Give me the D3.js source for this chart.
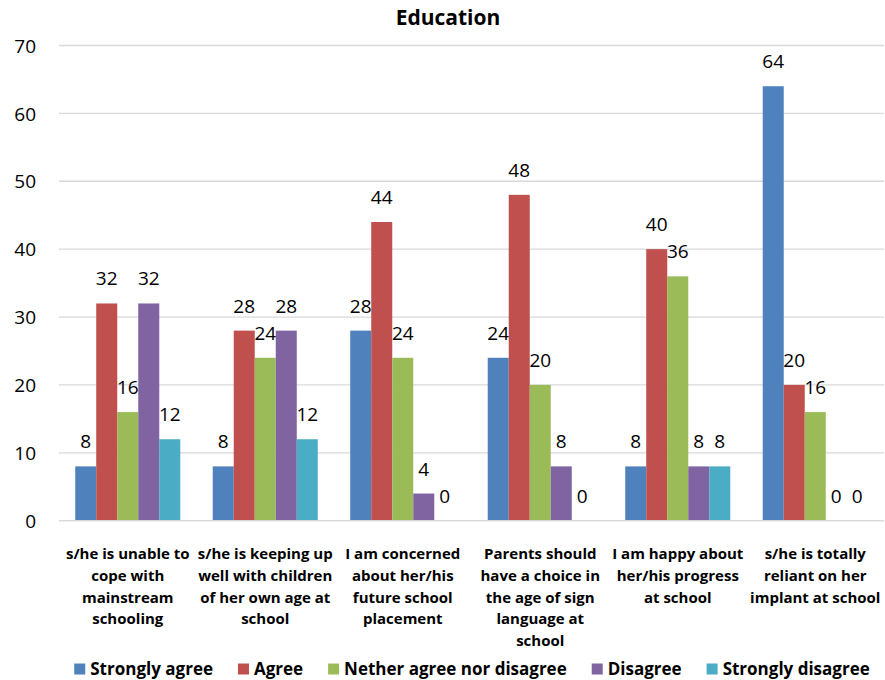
<!DOCTYPE html>
<html><head><meta charset="utf-8">
<script src="https://cdn.jsdelivr.net/npm/d3@7"></script>
<style>body{margin:0;background:#fff}svg{display:block}text{font-family:"Open Sans",Lato,sans-serif}</style>
</head><body><svg id="c" width="885" height="680"></svg>
<script>
const categories = [
  "s/he is unable to cope with mainstream schooling",
  "s/he is keeping up well with children of her own age at school",
  "I am concerned about her/his future school placement",
  "Parents should have a choice in the age of sign language at school",
  "I am happy about her/his progress at school",
  "s/he is totally reliant on her implant at school"
];
const categoryLines = [
  ["s/he is unable to","cope with","mainstream","schooling"],
  ["s/he is keeping up","well with children","of her own age at","school"],
  ["I am concerned","about her/his","future school","placement"],
  ["Parents should","have a choice in","the age of sign","language at","school"],
  ["I am happy about","her/his progress","at school"],
  ["s/he is totally","reliant on her","implant at school"]
];
const seriesNames = ["Strongly agree","Agree","Nether agree nor disagree","Disagree","Strongly disagree"];
const stronglyAgree = [8, 8, 28, 24, 8, 64];
const agree = [32, 28, 44, 48, 40, 20];
const neither = [16, 24, 24, 20, 36, 16];
const disagree = [32, 28, 4, 8, 8, 0];
const stronglyDisagree = [12, 12, 0, 0, 8, 0];
const yTicks = [0,10,20,30,40,50,60,70];
const colors = ["#4F81BD","#C0504D","#9BBB59","#8064A2","#4BACC6"];

(function(){
const series = [stronglyAgree, agree, neither, disagree, stronglyDisagree];

const svg = d3.select("#c");
const pLeft = 59, pRight = 884, pTop = 45.5, pBottom = 520.7;
const x0 = d3.scaleBand().domain(d3.range(categories.length)).range([pLeft, pRight]).paddingInner(0.236).paddingOuter(0.118);
const x1 = d3.scaleBand().domain(d3.range(series.length)).range([0, x0.bandwidth()]);
const y = d3.scaleLinear().domain([0, 70]).range([pBottom, pTop]);

// gridlines
svg.append("g").selectAll("line").data(yTicks).join("line")
  .attr("x1", pLeft).attr("x2", pRight)
  .attr("y1", d => y(d)).attr("y2", d => y(d))
  .attr("stroke", "#d9d9d9").attr("stroke-width", 1.3);

// y axis labels
const yAxis = d3.axisLeft(y).tickValues(yTicks).tickSize(0).tickPadding(0);
const ga = svg.append("g").attr("transform", `translate(36,0)`).call(yAxis);
ga.select(".domain").remove();
ga.selectAll("text").attr("font-size", 19).attr("fill", "#000").attr("font-family", "'Open Sans',sans-serif").attr("dy", "0.35em");

// bars
const groups = svg.append("g").selectAll("g").data(categories).join("g")
  .attr("transform", (d, i) => `translate(${x0(i)},0)`);
series.forEach((s, si) => {
  groups.append("rect")
    .attr("x", x1(si)).attr("width", x1.bandwidth())
    .attr("y", (d, i) => y(s[i])).attr("height", (d, i) => y(0) - y(s[i]))
    .attr("fill", colors[si]);
  groups.append("text")
    .attr("x", x1(si) + x1.bandwidth() / 2)
    .attr("y", (d, i) => y(s[i]) - 18)
    .attr("text-anchor", "middle").attr("font-size", 19).attr("fill", "#000")
    .text((d, i) => s[i]);
});

// baseline
svg.append("line").attr("x1", pLeft).attr("x2", pRight).attr("y1", y(0)).attr("y2", y(0))
  .attr("stroke", "#d9d9d9").attr("stroke-width", 1.3);

// category labels
const cl = svg.append("g").selectAll("text").data(categoryLines).join("text")
  .attr("text-anchor", "middle").attr("font-size", 15).attr("font-weight", "bold").attr("fill", "#000")
  .attr("transform", (d, i) => `translate(${x0(i) + x0.bandwidth() / 2},559)`);
cl.selectAll("tspan").data(d => d).join("tspan")
  .attr("x", 0).attr("y", (d, j) => j * 21.8).text(d => d);

// title
svg.append("text").attr("x", 448).attr("y", 25).attr("text-anchor", "middle")
  .attr("font-size", 21).attr("font-weight", "bold").text("Education");

// legend
const lg = svg.append("g");
let cx = 0;
seriesNames.forEach((n, i) => {
  const g = lg.append("g");
  g.append("rect").attr("x", cx).attr("y", -5.5).attr("width", 11).attr("height", 11).attr("fill", colors[i]);
  const t = g.append("text").attr("x", cx + 16).attr("y", 0).attr("dy", "0.35em")
    .attr("font-size", 17).attr("font-weight", "bold").text(n);
  const w = t.node().getComputedTextLength();
  cx += 16 + w + 25;
});
const total = cx - 25;
lg.attr("transform", `translate(${472 - total / 2},669)`);
})();
</script></body></html>
